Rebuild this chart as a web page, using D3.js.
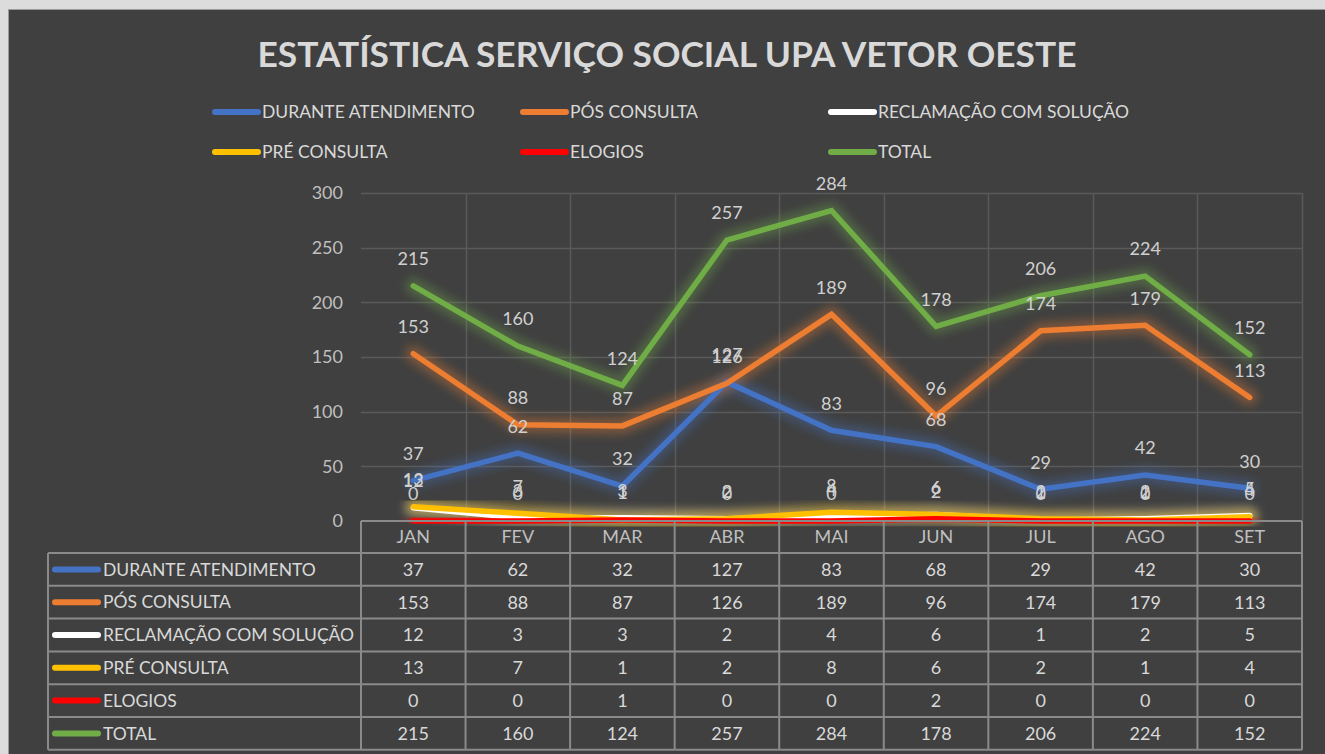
<!DOCTYPE html>
<html>
<head>
<meta charset="utf-8">
<script src="https://cdn.jsdelivr.net/npm/d3@7"></script>
<style>
  html, body { margin: 0; padding: 0; background: #dcdcdc; }
  svg { display: block; }
  text { font-family: Lato, "Open Sans", sans-serif; }
</style>
</head>
<body>
<div id="chart"></div>
<script>
const months = ["JAN", "FEV", "MAR", "ABR", "MAI", "JUN", "JUL", "AGO", "SET"];
const duranteAtendimento = [37, 62, 32, 127, 83, 68, 29, 42, 30];
const posConsulta = [153, 88, 87, 126, 189, 96, 174, 179, 113];
const reclamacaoComSolucao = [12, 3, 3, 2, 4, 6, 1, 2, 5];
const preConsulta = [13, 7, 1, 2, 8, 6, 2, 1, 4];
const elogios = [0, 0, 1, 0, 0, 2, 0, 0, 0];
const total = [215, 160, 124, 257, 284, 178, 206, 224, 152];
const yTicks = [0, 50, 100, 150, 200, 250, 300];

const series = [
  { name: "DURANTE ATENDIMENTO", values: duranteAtendimento, color: "#4472c4" },
  { name: "PÓS CONSULTA", values: posConsulta, color: "#ed7d31" },
  { name: "RECLAMAÇÃO COM SOLUÇÃO", values: reclamacaoComSolucao, color: "#ffffff" },
  { name: "PRÉ CONSULTA", values: preConsulta, color: "#ffc000" },
  { name: "ELOGIOS", values: elogios, color: "#ff0000" },
  { name: "TOTAL", values: total, color: "#70ad47" }
];

const width = 1325, height = 754;
const textColor = "#d9d9d9";
const gridColor = "#5a5a5a";
const tableColor = "#8a8a8a";
const nameSize = 17.5;

const svg = d3.select("#chart").append("svg")
  .attr("width", width)
  .attr("height", height);

// glow filter
const defs = svg.append("defs");
const glow = defs.append("filter").attr("id", "glow")
  .attr("x", "-20%").attr("y", "-50%").attr("width", "140%").attr("height", "200%");
glow.append("feGaussianBlur").attr("stdDeviation", 5);

svg.append("rect")
  .attr("x", 8.5).attr("y", 9.5)
  .attr("width", width).attr("height", height)
  .attr("fill", "#404040")
  .attr("stroke", "#9a9a9a");

// title
svg.append("text")
  .attr("x", 667).attr("y", 67)
  .attr("text-anchor", "middle")
  .attr("fill", textColor)
  .attr("font-size", 35)
  .attr("font-weight", "bold")
  .attr("textLength", 819)
  .attr("lengthAdjust", "spacingAndGlyphs")
  .text("ESTATÍSTICA SERVIÇO SOCIAL UPA VETOR OESTE");

// legend
const legend = svg.append("g");
series.forEach((s, i) => {
  const lx = 212 + (i % 3) * 308;
  const ly = 112 + Math.floor(i / 3) * 40;
  legend.append("line")
    .attr("x1", lx + 3).attr("x2", lx + 46)
    .attr("y1", ly).attr("y2", ly)
    .attr("stroke", s.color).attr("stroke-width", 6)
    .attr("stroke-linecap", "round");
  legend.append("text")
    .attr("x", lx + 50).attr("y", ly)
    .attr("dy", "0.35em")
    .attr("fill", textColor)
    .attr("font-size", nameSize)
    .text(s.name);
});

// scales
const x = d3.scaleBand().domain(months).range([361, 1302]).paddingInner(0).paddingOuter(0);
const y = d3.scaleLinear().domain([0, 300]).range([521, 193]);
const cx = (m) => x(m) + x.bandwidth() / 2;

// gridlines
const grid = svg.append("g");
grid.selectAll("line.h")
  .data(yTicks.filter((t) => t > 0))
  .join("line")
  .attr("x1", 361).attr("x2", 1302)
  .attr("y1", (d) => Math.round(y(d)) + 0.5)
  .attr("y2", (d) => Math.round(y(d)) + 0.5)
  .attr("stroke", gridColor).attr("stroke-width", 1.5);
grid.selectAll("line.v")
  .data(months.slice(1).concat(["end"]))
  .join("line")
  .attr("x1", (d) => Math.round(d === "end" ? 1302 : x(d)) + 0.5)
  .attr("x2", (d) => Math.round(d === "end" ? 1302 : x(d)) + 0.5)
  .attr("y1", 193).attr("y2", 521)
  .attr("stroke", gridColor).attr("stroke-width", 1.5);

// y axis
const yAxis = svg.append("g")
  .attr("transform", "translate(343,0)")
  .call(d3.axisLeft(y).tickValues(yTicks).tickSize(0).tickPadding(0));
yAxis.select(".domain").remove();
yAxis.selectAll("text")
  .attr("fill", "#bfbfbf")
  .attr("font-size", 18)
  .attr("font-family", "Lato, 'Open Sans', sans-serif");

// lines
const line = d3.line()
  .x((d, i) => cx(months[i]))
  .y((d) => y(d));

const lines = svg.append("g");
series.forEach((s) => {
  lines.append("path")
    .attr("d", line(s.values))
    .attr("fill", "none")
    .attr("stroke", s.color)
    .attr("stroke-opacity", 0.35)
    .attr("stroke-width", 16)
    .attr("stroke-linejoin", "round")
    .attr("stroke-linecap", "round")
    .attr("filter", "url(#glow)");
});
series.forEach((s) => {
  lines.append("path")
    .attr("d", line(s.values))
    .attr("fill", "none")
    .attr("stroke", s.color)
    .attr("stroke-width", 5.5)
    .attr("stroke-linejoin", "miter")
    .attr("stroke-linecap", "round");
});

// data labels
const labels = svg.append("g");
series.forEach((s) => {
  labels.selectAll(null)
    .data(s.values)
    .join("text")
    .attr("x", (d, i) => cx(months[i]))
    .attr("y", (d) => y(d) - 27)
    .attr("dy", "0.35em")
    .attr("text-anchor", "middle")
    .attr("fill", "#d0d0d0")
    .attr("font-size", 18)
    .text((d) => d);
});

// data table
const rowH = 32.8;
const headTop = 521, bodyTop = 553;
const table = svg.append("g");

months.forEach((m) => {
  table.append("text")
    .attr("x", cx(m)).attr("y", (headTop + bodyTop) / 2)
    .attr("dy", "0.35em")
    .attr("text-anchor", "middle")
    .attr("fill", "#bfbfbf")
    .attr("font-size", 18)
    .text(m);
});

series.forEach((s, r) => {
  const ry = bodyTop + r * rowH + rowH / 2;
  table.append("line")
    .attr("x1", 55).attr("x2", 98)
    .attr("y1", ry).attr("y2", ry)
    .attr("stroke", s.color).attr("stroke-width", 6)
    .attr("stroke-linecap", "round");
  table.append("text")
    .attr("x", 103).attr("y", ry)
    .attr("dy", "0.35em")
    .attr("fill", textColor)
    .attr("font-size", nameSize)
    .text(s.name);
  table.selectAll(null)
    .data(s.values)
    .join("text")
    .attr("x", (d, i) => cx(months[i]))
    .attr("y", ry)
    .attr("dy", "0.35em")
    .attr("text-anchor", "middle")
    .attr("fill", textColor)
    .attr("font-size", 18)
    .text((d) => d);
});

// table grid
const tableBottom = bodyTop + series.length * rowH;
const tl = table.append("g")
  .attr("stroke", tableColor).attr("stroke-width", 2).attr("fill", "none");
tl.append("line").attr("x1", 361).attr("x2", 1302).attr("y1", headTop).attr("y2", headTop);
d3.range(series.length + 1).forEach((r) => {
  const yy = bodyTop + r * rowH;
  tl.append("line").attr("x1", 48).attr("x2", 1302).attr("y1", yy).attr("y2", yy);
});
tl.append("line").attr("x1", 48).attr("x2", 48).attr("y1", bodyTop).attr("y2", tableBottom);
months.concat(["end"]).forEach((m) => {
  const xx = m === "end" ? 1302 : x(m);
  tl.append("line").attr("x1", xx).attr("x2", xx).attr("y1", headTop).attr("y2", tableBottom);
});
</script>
</body>
</html>
